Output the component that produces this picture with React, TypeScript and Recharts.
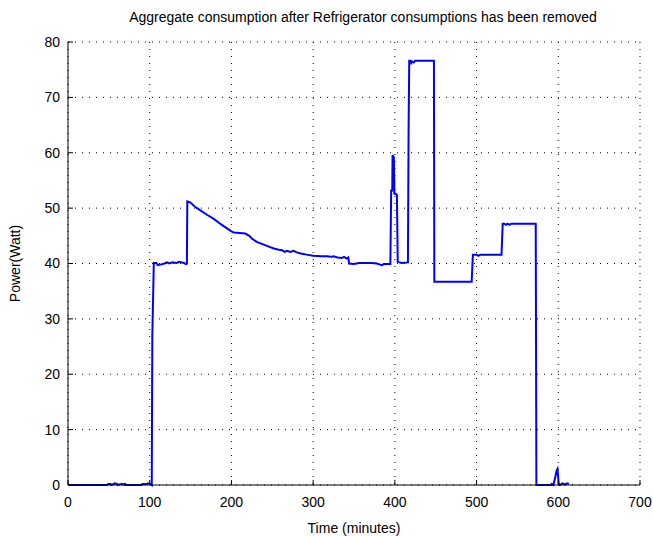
import React from 'react'
import { LineChart, Line, XAxis, YAxis, CartesianGrid } from 'recharts'

// minutes since start
const TIME = [
  0, 48, 49, 52, 53, 56, 57, 60, 61, 66, 67, 70, 71, 90, 91, 97, 98, 101, 102.5,
  103.2, 105, 108, 110, 113, 118, 121, 124, 128, 133, 136, 142, 144, 145.5,
  146, 150, 155, 162, 170, 178, 187, 195, 200, 203, 210, 217, 222, 225, 231,
  238, 245, 252, 258, 262, 265, 268, 272, 276, 280, 285, 292, 300, 310, 317,
  322, 325, 330, 335, 338, 341, 343, 344, 350, 356, 365, 372, 378, 382, 384,
  387, 394.5, 395.5, 396.8, 397.2, 398, 398.8, 399.4, 401, 402.5, 403.5, 406,
  408, 416, 416.8, 417.6, 419, 420, 421, 423, 425, 447.8, 448.3, 494, 495.5,
  500, 502, 505, 530.5, 532, 534, 536, 538, 540, 543, 572.4, 573.2, 590, 592,
  594, 596, 598, 599, 600.5, 602, 605, 608, 611, 613,
]

// aggregate power in watts
const POWER = [
  0, 0, 0.2, 0.2, 0, 0.2, 0.3, 0.2, 0, 0.2, 0.1, 0.2, 0, 0, 0.2, 0.2, 0.3, 0.2, 0,
  27, 40.1, 40.1, 39.7, 39.8, 40, 40.2, 40, 40.2, 40.1, 40.3, 40.1, 39.9, 40,
  51.2, 51, 50.3, 49.6, 48.8, 48.1, 47.1, 46.3, 45.8, 45.6, 45.5, 45.4, 45, 44.5, 43.9,
  43.5, 43.1, 42.7, 42.5, 42.4, 42.1, 42.3, 42.1, 42.3, 42, 41.8, 41.6, 41.4, 41.3, 41.3,
  41.2, 41.3, 41.1, 41, 41.2, 40.9, 41.1, 40, 39.9, 40.1, 40.1, 40.1, 40, 39.8, 39.7,
  39.9, 39.9, 53.2, 53.2, 59.6, 59.3, 59.2, 52.6, 52.6, 52.4, 40.3, 40.2,
  40.1, 40.2, 64, 76.6, 76.6, 76.2, 76.5, 76.3, 76.6, 76.6, 36.7, 36.7, 41.6,
  41.6, 41.4, 41.6, 41.6, 47.2, 47.2, 47, 47.2, 47, 47.2, 47.2, 0, 0, 0.2,
  0, 1.2, 2.6, 2.9, 0.3, 0, 0.3, 0.1, 0.3, 0.2,
]

const X_TICKS = [0, 100, 200, 300, 400, 500, 600, 700]
const Y_TICKS = [0, 10, 20, 30, 40, 50, 60, 70, 80]

const data = TIME.map((t, i) => ({ t, p: POWER[i] }))

const FONT = '"Liberation Sans", Arial, Helvetica, sans-serif'
const tickStyle = { fontSize: 14, fill: '#000', fontFamily: FONT }

const App: React.FC = () => {
  return (
    <div style={{ position: 'absolute', left: 0, top: 0, width: 653, height: 536, background: '#fff' }}>
      <div style={{
        position: 'absolute', top: 9, left: 0, width: 653, textAlign: 'center',
        fontFamily: FONT, fontSize: 14, color: '#000', paddingLeft: 73,
        boxSizing: 'border-box', whiteSpace: 'nowrap',
      }}>
        Aggregate consumption after Refrigerator consumptions has been removed
      </div>
      <LineChart width={653} height={536} data={data} margin={{ top: 42, right: 13, left: 0, bottom: 0 }}>
        <CartesianGrid stroke="#000" strokeDasharray="1 6" strokeWidth={1} />
        <XAxis
          dataKey="t" type="number" domain={[0, 700]} ticks={X_TICKS}
          height={51} tickSize={-5} tickMargin={17} tick={tickStyle}
          stroke="#000" allowDataOverflow
          label={{ value: 'Time (minutes)', position: 'insideBottom', offset: 3, style: tickStyle }}
        />
        <XAxis
          xAxisId="top" orientation="top" dataKey="t" type="number" domain={[0, 700]} ticks={X_TICKS}
          height={0} tickSize={-5} tick={false} stroke="#000"
        />
        <YAxis
          type="number" domain={[0, 80]} ticks={Y_TICKS} width={68}
          tickSize={-5} tickMargin={13} tick={tickStyle} stroke="#000"
          label={{ value: 'Power(Watt)', angle: -90, position: 'insideLeft', offset: 15, style: { ...tickStyle, textAnchor: 'middle' } }}
        />
        <YAxis
          yAxisId="right" orientation="right" type="number" domain={[0, 80]} ticks={Y_TICKS}
          width={0} tickSize={-5} tick={false} stroke="#000"
        />
        <Line
          dataKey="p" type="linear" stroke="#0000ff" strokeWidth={2} dot={false}
          isAnimationActive={false}
        />
        <Line
          dataKey="p" xAxisId="top" yAxisId="right" stroke="none" dot={false}
          isAnimationActive={false}
        />
      </LineChart>
    </div>
  )
}

export default App
